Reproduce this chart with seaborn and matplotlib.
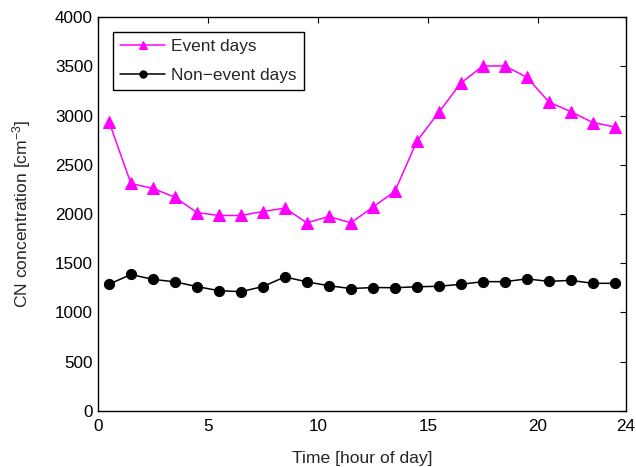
import numpy as np
import pandas as pd
import matplotlib
matplotlib.use("Agg")
import matplotlib.pyplot as plt
import seaborn as sns

hours = [h + 0.5 for h in range(24)]
event_days = [2940, 2310, 2260, 2170, 2015, 1985, 1985, 2025, 2060, 1910, 1975, 1910,
              2070, 2230, 2740, 3035, 3330, 3505, 3505, 3390, 3140, 3040, 2930, 2885]
non_event_days = [1285, 1385, 1335, 1310, 1262, 1220, 1210, 1262, 1360, 1310, 1270, 1242,
                  1252, 1250, 1260, 1265, 1285, 1312, 1312, 1340, 1315, 1325, 1295, 1295]
series_names = ["Event days", "Non\u2212event days"]
xticks = [0, 5, 10, 15, 20, 24]
yticks = list(range(0, 4001, 500))

sns.set_style("white")
plt.rcParams['font.family'] = ['Liberation Sans', 'DejaVu Sans']
plt.rcParams['mathtext.fontset'] = 'custom'
plt.rcParams['mathtext.rm'] = 'Liberation Sans'
plt.rcParams['mathtext.it'] = 'Liberation Sans'

fig = plt.figure(figsize=(6.36, 4.67), dpi=100)
ax = fig.add_axes([0.154, 0.1206, 0.984 - 0.154, 0.963 - 0.1206])

df_e = pd.DataFrame({"hour": hours, "cn": event_days})
df_n = pd.DataFrame({"hour": hours, "cn": non_event_days})

sns.lineplot(data=df_e, x="hour", y="cn", ax=ax, color="#ff00ff", marker="^",
             markersize=8.5, markeredgecolor="#ff00ff", linewidth=1.1, label=series_names[0])
sns.lineplot(data=df_n, x="hour", y="cn", ax=ax, color="black", marker="o",
             markersize=7.3, markeredgecolor="black", linewidth=1.1, label=series_names[1])

ax.set_xlim(0, 24)
ax.set_ylim(0, 4000)
ax.set_xticks(xticks)
ax.set_yticks(yticks)
ax.tick_params(direction="in", top=True, right=True, length=4, width=0.8,
               labelsize=12.3, colors="black")
ax.tick_params(axis="x", pad=6)
ax.tick_params(axis="y", pad=3.5)
for s in ax.spines.values():
    s.set_visible(True)
    s.set_color("black")
    s.set_linewidth(1.0)
ax.set_xlabel("Time [hour of day]", fontsize=12.6, labelpad=12)
ax.set_ylabel("CN concentration [cm$^{-3}$]", fontsize=12.6, labelpad=16)

leg = ax.legend(loc="upper left", bbox_to_anchor=(0.0285, 0.9626), fontsize=12.4,
                frameon=True, fancybox=False, edgecolor="black", framealpha=1,
                handlelength=2.6, borderpad=0.42, labelspacing=0.78, handletextpad=0.35,
                borderaxespad=0, markerscale=0.72)
leg.get_frame().set_linewidth(1.0)

fig.savefig("out.png", dpi=100)
